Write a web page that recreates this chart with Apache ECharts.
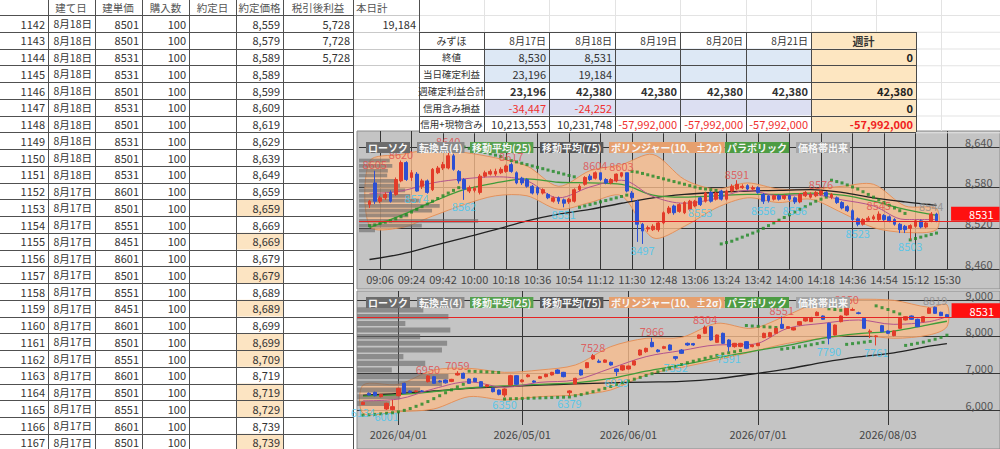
<!DOCTYPE html>
<html><head><meta charset="utf-8">
<script src="https://cdn.jsdelivr.net/npm/echarts@6/dist/echarts.min.js"></script>
<style>html,body{margin:0;padding:0;background:#fff}#c{width:1000px;height:449px}</style>
</head><body><div id="c"></div>
<script>
// ---------------- spreadsheet data ----------------
const rowNums = [1142,1143,1144,1145,1146,1147,1148,1149,1150,1151,1152,1153,1154,1155,1156,1157,1158,1159,1160,1161,1162,1163,1164,1165,1166,1167];
const tradeDates = ['8月18日','8月18日','8月18日','8月18日','8月18日','8月18日','8月18日','8月18日','8月18日','8月18日','8月17日','8月17日','8月17日','8月17日','8月17日','8月17日','8月17日','8月17日','8月17日','8月17日','8月17日','8月17日','8月17日','8月17日','8月17日','8月17日'];
const buildPrices = [8501,8501,8531,8531,8501,8531,8501,8531,8501,8531,8601,8501,8551,8451,8601,8501,8551,8451,8601,8501,8551,8601,8501,8551,8601,8501];
const quantities = [100,100,100,100,100,100,100,100,100,100,100,100,100,100,100,100,100,100,100,100,100,100,100,100,100,100];
const fillPrices = [8559,8579,8589,8589,8599,8609,8619,8629,8639,8649,8659,8659,8669,8669,8679,8679,8689,8689,8699,8699,8709,8719,8719,8729,8739,8739];
const netProfits = [5728,7728,5728];
const todayTotal = [19184];
const highlightedRows = [1153,1155,1157,1159,1161,1162,1164,1165,1167];
const sheetHeaders = ['建て日','建単価','購入数','約定日','約定価格','税引後利益','本日計'];

const summaryHeader = ['みずほ','8月17日','8月18日','8月19日','8月20日','8月21日','週計'];
const summaryLabels = ['終値','当日確定利益','週確定利益合計','信用含み損益','信用+現物含み'];
const closePrices = [8530,8531,null,null,null];
const dayProfit = [23196,19184,null,null,null];
const weekProfit = [23196,42380,42380,42380,42380];
const marginPL = [-34447,-24252,null,null,null];
const totalPL = [10213553,10231748,-57992000,-57992000,-57992000];
const weekTotals = [0,null,42380,0,-57992000];

// ---------------- intraday chart (3-min bars) [open, close, low, high] ----------------
const tickLabels1 = ['09:06','09:24','09:42','10:00','10:18','10:36','10:54','11:12','11:30','12:48','13:06','13:24','13:42','14:00','14:18','14:36','14:54','15:12','15:30'];
const candles1 = [
[8555,8560,8550,8562],[8587,8560,8556,8605],[8560,8565,8557,8568],[8565,8570,8562,8573],[8573,8560,8558,8576],
[8570,8592,8568,8595],[8590,8617,8588,8620],[8617,8592,8590,8619],[8595,8602,8590,8606],[8600,8575,8574,8603],
[8582,8590,8578,8593],[8590,8573,8571,8592],[8577,8607,8575,8609],[8602,8609,8600,8612],[8609,8614,8606,8618],
[8609,8627,8607,8640],[8627,8607,8605,8630],[8604,8590,8586,8606],[8592,8578,8562,8594],[8575,8580,8572,8583],
[8576,8579,8573,8582],[8573,8597,8570,8600],[8597,8602,8595,8605],[8600,8604,8598,8607],[8600,8604,8597,8608],
[8602,8607,8600,8610],[8604,8612,8602,8614],[8614,8604,8602,8617],[8602,8587,8585,8604],[8594,8587,8584,8596],
[8592,8582,8580,8594],[8582,8572,8570,8584],[8580,8572,8569,8582],[8572,8577,8570,8579],[8570,8565,8563,8572],
[8560,8565,8558,8567],[8565,8560,8556,8567],[8562,8557,8551,8564],[8559,8563,8556,8565],[8560,8577,8558,8579],
[8577,8582,8575,8585],[8585,8595,8583,8597],[8597,8592,8590,8600],[8594,8602,8592,8604],[8602,8592,8590,8602],
[8592,8587,8585,8594],[8587,8592,8585,8594],[8590,8600,8588,8601],[8597,8602,8595,8603],[8602,8575,8573,8602],
[8572,8565,8560,8575],[8560,8526,8500,8562],[8526,8516,8497,8528],[8519,8521,8515,8524],[8518,8523,8516,8526],
[8518,8528,8515,8530],[8528,8543,8526,8545],[8543,8550,8541,8553],[8553,8543,8540,8555],[8545,8555,8543,8557],
[8543,8558,8541,8560],[8548,8560,8546,8562],[8553,8560,8551,8562],[8565,8555,8553,8567],[8560,8572,8558,8574],
[8573,8560,8558,8575],[8563,8572,8561,8574],[8575,8563,8561,8577],[8563,8575,8561,8577],[8575,8582,8573,8585],
[8578,8585,8576,8591],[8580,8582,8578,8585],[8583,8578,8576,8585],[8578,8580,8576,8583],[8580,8573,8571,8582],
[8570,8560,8556,8572],[8568,8561,8558,8569],[8563,8568,8561,8570],[8568,8563,8561,8570],[8564,8568,8562,8570],
[8568,8563,8560,8570],[8565,8559,8556,8567],[8559,8570,8557,8572],[8568,8573,8566,8575],[8566,8570,8564,8573],
[8568,8573,8566,8575],[8570,8575,8568,8576],[8573,8568,8566,8575],[8566,8570,8563,8572],[8565,8558,8556,8567],
[8558,8550,8548,8560],[8552,8546,8544,8554],[8546,8533,8531,8548],[8534,8526,8523,8536],[8526,8533,8524,8535],
[8532,8535,8530,8538],[8534,8537,8532,8540],[8533,8541,8531,8545],[8539,8533,8531,8541],[8537,8531,8529,8539],
[8533,8526,8524,8535],[8526,8518,8513,8528],[8523,8518,8513,8525],[8520,8524,8503,8526],[8523,8531,8521,8533],
[8531,8522,8520,8533],[8522,8528,8520,8530],[8531,8541,8529,8544],[8541,8531,8529,8543]
];
const sampleIdx1 = [0,6,12,18,24,30,36,42,48,54,60,66,72,78,84,90,96,102,108];
const ma25_1 = [8521,8539,8559,8577,8587,8593,8588,8587,8585,8569,8566,8568,8570,8570,8572,8569,8560,8548,8539];
const ma75_1 = [8474,8482,8494,8506,8518,8531,8541,8548,8557,8565,8570,8573,8575,8576,8577,8573,8565,8559,8554];
const bbUp1  = [8619,8629,8636,8632,8624,8612,8582,8605,8614,8629,8592,8578,8587,8578,8578,8582,8585,8553,8549];
const bbLo1  = [8523,8521,8538,8555,8568,8568,8548,8558,8568,8506,8523,8550,8565,8558,8563,8543,8521,8514,8518];
const bbMid1 = [8571,8575,8587,8593,8596,8590,8565,8581,8591,8567,8557,8564,8576,8568,8570,8562,8553,8533,8533];
const sar1 = [
8524,8525,8527,8529,8531,8534,8537,8540,8544,8548,8552,8556,8560,8564,8568,8572,8576,8580,
8640,8638,8636,8634,8632,8630,8628,8626,8623,8620,8618,8616,8614,8612,8610,8608,8606,8604,8602,8600,8598,8596,
8551,8553,8555,8557,8559,8561,8563,8565,8567,8569,
8604,8603,8601,8599,8597,8595,8593,8591,8589,8587,8585,8583,8581,8579,8578,8577,8576,
8497,8499,8501,8504,8507,8510,8513,8516,8520,8524,8528,8532,8536,8540,8544,8548,8552,8556,8560,8563,8566,
8591,8589,8587,8584,8581,8578,8574,8570,8566,8562,8558,8554,8550,8546,8542,
8503,8505,8507,8509,8511,8513];
const turnHigh1 = [1,6,15,27,43,48,70,86,97];
const turnLow1 = [9,18,37,52,63,75,81,93,103];
const turnOpen1 = [107];
const profilePrice1 = [8620,8612,8605,8598,8590,8583,8576,8568,8561,8553,8546,8539,8531,8524,8517];
const profileVol1   = [48,52,45,44,56,64,72,80,95,126,114,77,186,98,25];

// ---------------- daily chart [open, close, low, high] ----------------
const dates2 = ['03/24','03/25','03/26','03/27','03/30','03/31',
'04/01','04/02','04/03','04/06','04/07','04/08','04/09','04/10','04/13','04/14','04/15','04/16','04/17','04/20','04/21','04/22','04/23','04/24','04/27','04/28','04/30',
'05/01','05/07','05/08','05/11','05/12','05/13','05/14','05/15','05/18','05/19','05/20','05/21','05/22','05/25','05/26','05/27','05/28','05/29',
'06/01','06/02','06/03','06/04','06/05','06/08','06/09','06/10','06/11','06/12','06/15','06/16','06/17','06/18','06/19','06/22','06/23','06/24','06/25','06/26','06/29','06/30',
'07/01','07/02','07/03','07/06','07/07','07/08','07/09','07/10','07/13','07/14','07/15','07/16','07/17','07/21','07/22','07/23','07/24','07/27','07/28','07/29','07/30','07/31',
'08/03','08/04','08/05','08/06','08/07','08/10','08/12','08/13','08/14','08/17','08/18'];
const tickDates2 = ['04/01','05/01','06/01','07/01','08/03'];
const candles2 = [
[6150,6210,6134,6230],[6455,6409,6390,6480],[6482,6391,6370,6500],[6364,6427,6340,6440],[6027,6182,6001,6200],
[6010,6091,5990,6273],[6391,6591,6370,6610],[6727,6455,6440,6745],[6518,6482,6460,6540],[6500,6520,6480,6540],
[6520,6510,6490,6545],[6773,6930,6750,6950],[6909,6727,6710,6930],[6791,6770,6750,6810],[6818,6740,6720,6830],
[6780,6836,6760,6850],[6955,7000,6940,7059],[7000,6864,6850,7020],[6845,6727,6710,6860],[6864,6773,6760,6880],
[6773,6636,6620,6790],[6640,6680,6620,6700],[6591,6500,6480,6610],[6545,6427,6400,6560],[6409,6573,6350,6590],
[6682,6936,6660,6960],[6936,6700,6680,6950],[6773,6818,6750,6840],[6909,6955,6890,6980],[6791,6760,6740,6810],
[6864,6909,6850,6930],[6909,6973,6890,6990],[6955,7027,6940,7040],[7091,7000,6980,7110],[7027,6909,6890,7040],
[6470,6520,6379,6540],[6709,6864,6690,6880],[7091,6955,6940,7110],[7155,7291,7140,7310],[7391,7482,7370,7528],
[7330,7300,7280,7380],[7300,7364,7290,7380],[7300,7227,7210,7320],[7118,7046,6929,7130],[7091,7209,7070,7220],
[7118,7200,7100,7210],[7227,7336,7210,7350],[7500,7636,7480,7650],[7591,7682,7560,7700],[7845,7727,7710,7966],
[7636,7591,7570,7660],[7682,7727,7660,7750],[7773,7636,7620,7790],[7455,7409,7352,7470],[7636,7546,7530,7660],
[7818,7773,7750,7840],[7810,7773,7750,7830],[7955,8046,7940,8060],[8091,8255,8070,8304],[8273,7909,7890,8290],
[7845,8046,7830,8060],[8091,7818,7800,8110],[7909,7727,7591,7930],[7727,7818,7700,7830],[7730,7818,7710,7830],
[7864,7682,7660,7880],[7727,7773,7710,7790],[7755,7818,7740,7830],[7973,8091,7960,8110],[8000,8109,7990,8130],
[8091,8227,8080,8240],[8336,8227,8210,8551],[8227,8273,8210,8290],[8182,8245,8170,8260],[8318,8409,8300,8420],
[8427,8500,8410,8520],[8409,8518,8400,8540],[8573,8664,8560,8690],[8564,8473,8460,8580],[8364,7955,7790,8380],
[8046,8318,8030,8330],[8409,8564,8390,8580],[8591,8773,8570,8850],[8720,8740,8700,8790],[8650,8630,8610,8680],
[8500,8227,8210,8520],[8130,8150,7960,8200],[8000,8020,7761,8040],[8300,8136,8120,8320],[8155,8091,8070,8170],
[8027,8155,8010,8170],[8227,8500,8210,8520],[8455,8545,8440,8560],[8564,8473,8460,8580],[8473,8273,8260,8490],
[8409,8545,8390,8560],[8636,8773,8620,8800],[8800,8636,8620,8819],[8664,8573,8560,8680],[8600,8531,8520,8620]
];
const sampleIdx2 = [0,6,12,18,24,30,36,42,48,54,60,66,72,78,84,90,96,99];
const ma25_2 = [6380,6420,6500,6600,6660,6700,6740,6860,7060,7230,7420,7600,7760,7960,8080,8150,8330,8420];
const ma75_2 = [6400,6450,6520,6590,6640,6680,6710,6740,6760,6780,6850,6980,7120,7300,7450,7560,7740,7810];
const bbUp2  = [6680,6700,7091,7136,7027,7091,7227,7727,7955,7980,8364,8227,8591,8980,9020,8990,8800,8870];
const bbLo2  = [5909,5955,6027,6364,6273,6364,6409,6545,6955,7160,7364,7591,7818,7955,8046,7955,8046,8273];
const bbMid2 = [6250,6300,6580,6770,6620,6755,6820,7136,7455,7620,7773,7790,8227,8364,8455,8336,8409,8545];
const sar2 = [
5860,5870,5880,5895,5910,5925,5950,5990,6040,6100,6160,6230,6310,6390,6470,6550,6630,6700,
7059,7052,7045,7038,7031,7024,
6300,6305,6310,6315,6320,6325,6330,6335,6340,6345,6350,6355,
6390,6420,6460,6500,6545,6590,6640,6690,6740,6790,6840,6890,6940,6990,7040,7090,7140,7190,7240,7290,7330,7370,7410,7450,7490,7530,7560,7590,7620,
8304,8290,8280,8270,8260,8250,
7660,7680,7700,7725,7750,7780,7810,7845,
8760,8740,8720,
7790,7810,7830,7850,7870,
8840,8790,8740,8680,8620,
7761,7790,7820,7850,7890,7930,7980,8040];
const turnHigh2 = [11,16,39,49,58,71,82];
const turnLow2 = [0,4,24,35,43,53,62,79,87];
const turnOpen2 = [97];
const profilePrice2 = [8730,8545,8360,8180,8000,7820,7635,7455,7270,7090,6910,6725,6545,6360,6180];
const profileVol2   = [103,142,75,145,98,140,132,72,106,54,142,132,98,67,51];

// ---------------- rendering ----------------
const FONT = '"Noto Sans CJK JP","Noto Sans",sans-serif';
const fmt = v => Number(v).toLocaleString('en-US');
const G = [];
function T(x, y, s, o) {
  o = o || {};
  G.push({type:'text', z:o.z || 1, x:x, y:y, silent:true, style:{text:String(s), fill:o.c || '#333',
    font:(o.b ? 'bold ' : '') + (o.fs || 11) + 'px ' + FONT, align:o.a || 'left', verticalAlign:'middle'}});
}
function L(x1, y1, x2, y2, c, z) { G.push({type:'line', z:z || 1, silent:true, shape:{x1:x1, y1:y1, x2:x2, y2:y2}, style:{stroke:c, lineWidth:1}}); }
function R(x, y, w, h, fill, z, stroke) { G.push({type:'rect', z:z || 0, silent:true, shape:{x:x, y:y, width:w, height:h}, style:{fill:fill, stroke:stroke || null, lineWidth:1}}); }

// faint sheet grid on the right side
const RH = 16.75;
for (let k = 0; k <= 7; k++) L(419, 15 + RH * k + 0.5, 1000, 15 + RH * k + 0.5, '#e3e3e3', 0);
[484,549,615,680,746,811,876,941].forEach(x => L(x + 0.5, 0, x + 0.5, 131, '#e3e3e3', 0));

// left table
rowNums.forEach((r, k) => {
  const top = 15 + RH * k;
  if (highlightedRows.indexOf(r) >= 0) R(236.5, top, 46.5, RH, '#fce4c2', 0);
});
for (let k = 0; k <= rowNums.length; k++) {
  const y = Math.round(15 + RH * k) + 0.5;
  L(0, y, 353, y, '#505050');
  if (y < 131) L(353, y, 419, y, '#c9c9c9');
}
[48,94.5,142,189,236,283,353].forEach(x => L(Math.round(x) + 0.5, 0, Math.round(x) + 0.5, 449, '#505050'));
L(419.5, 0, 419.5, 131, '#505050');
const hdrCenters = [71,118,165.5,212.5,259.5,318];
sheetHeaders.forEach((h, i) => { if (i < 6) T(hdrCenters[i], 7.5, h, {a:'center', c:'#555', fs:10.5}); else T(356, 7.5, h, {c:'#555', fs:10.5}); });
rowNums.forEach((r, k) => {
  const yc = 15 + RH * k + 8.6;
  T(45, yc, r, {a:'right'});
  T(92, yc, tradeDates[k], {a:'right', fs:10.5});
  T(139, yc, buildPrices[k], {a:'right'});
  T(186, yc, quantities[k], {a:'right'});
  T(280, yc, fmt(fillPrices[k]), {a:'right'});
  if (netProfits[k] != null) T(350, yc, fmt(netProfits[k]), {a:'right'});
  if (todayTotal[k] != null) T(416, yc, fmt(todayTotal[k]), {a:'right'});
});

// summary table (top right)
const RX = [419,484,549,615,680,746,811,916];
const RY0 = 31.75;
const tRows = [closePrices, dayProfit, weekProfit, marginPL, totalPL];
for (let r = 0; r < 6; r++) {
  const y = RY0 + RH * r;
  for (let c = 0; c < 7; c++) {
    let fill = '#ffffff';
    if (c === 6) fill = '#fde6c1';
    else if (c > 0 && (r === 1 || r === 2)) fill = '#dde8f5';
    else if (c > 0 && r === 4) fill = '#dcdff2';
    R(RX[c], y, RX[c + 1] - RX[c], RH, fill, 1);
  }
}
for (let r = 0; r <= 6; r++) { const y = Math.round(RY0 + RH * r) + 0.5; L(419, y, RX[7], y, '#4a4a4a', 2); }
RX.forEach(x => L(x + 0.5, Math.round(RY0), x + 0.5, Math.round(RY0 + RH * 6), '#4a4a4a', 2));
summaryHeader.forEach((h, c) => {
  const yc = RY0 + RH / 2 + 0.5;
  if (c === 0) T((RX[0] + RX[1]) / 2, yc, h, {a:'center', fs:10, z:3});
  else if (c === 6) T((RX[6] + RX[7]) / 2, yc, h, {a:'center', b:true, fs:11, z:3});
  else T(RX[c + 1] - 3, yc, h, {a:'right', fs:10, z:3});
});
summaryLabels.forEach((lab, r) => {
  const yc = RY0 + RH * (r + 1) + RH / 2 + 0.5;
  T((RX[0] + RX[1]) / 2, yc, lab, {a:'center', fs:9.5, z:3});
  tRows[r].forEach((v, c) => {
    if (v == null) return;
    T(RX[c + 2] - 3, yc, fmt(v), {a:'right', b:r === 2, c:v < 0 ? '#f03030' : '#333', z:3});
  });
  if (weekTotals[r] != null) T(RX[7] - 3, yc, fmt(weekTotals[r]), {a:'right', b:true, c:weekTotals[r] < 0 ? '#f02020' : '#222', z:3});
});

// chart panels
R(357, 131, 643, 158, '#c4c4c4', -5, '#8c8c8c');
R(357, 291, 643, 158, '#c4c4c4', -5, '#8c8c8c');
const tags = [['ローソク',366,'#6c6c6c'],['転換点(4)',417,'#8a8a8a'],['移動平均(25)',470,'#56a04e'],['移動平均(75)',540,'#585858'],
  ['ボリンジャー(10、±2σ)',609,'#e6a06e'],['パラボリック',725,'#4d9c43'],['価格帯出来',796,'#a5a5a5']];
[147.5, 302.5].forEach(yc => tags.forEach(t => {
  G.push({type:'text', z:30, x:t[1], y:yc, silent:true, style:{text:t[0], fill:'#f6f6f6', font:'bold 10px ' + FONT,
    backgroundColor:t[2], padding:[1,2,0,2], align:'left', verticalAlign:'middle'}});
}));

// ---------------- chart option ----------------
const OFF1 = 2, N1 = 123, OFF2 = 1, N2 = 110;
const cats1 = Array.from({length:N1}, (_, c) => 'c' + c);
const cats2 = Array.from({length:N2}, (_, c) => { const i = c - OFF2; return (i >= 0 && i < dates2.length) ? dates2[i] : 'e' + c; });
function lbl1(c) { const i = c - OFF1; if (i < 2 || (i - 2) % 6) return null; const k = (i - 2) / 6; return k < tickLabels1.length ? tickLabels1[k] : null; }
function lbl2(c) { const d = dates2[c - OFF2]; return d && tickDates2.indexOf(d) >= 0 ? '2026/' + d : null; }

function bandSeries(xi, yi, idxs, up, lo, off) {
  return {type:'custom', xAxisIndex:xi, yAxisIndex:yi, z:1, silent:true, clip:false,
    data:[[idxs[0] + off, lo[0]]],
    renderItem:function (params, api) {
      const pts = [];
      idxs.forEach((i, k) => pts.push(api.coord([i + off, up[k]])));
      for (let k = idxs.length - 1; k >= 0; k--) pts.push(api.coord([idxs[k] + off, lo[k]]));
      return {type:'polygon', shape:{points:pts, smooth:0.3}, style:{fill:'rgba(250,188,140,0.78)', stroke:'rgba(228,140,82,0.9)', lineWidth:1}};
    }};
}
function profileSeries(xi, yi, prices, vols, h) {
  return {type:'custom', xAxisIndex:xi, yAxisIndex:yi, z:1, silent:true, clip:false,
    data:prices.map((p, k) => [vols[k], p]),
    renderItem:function (params, api) {
      const v = api.value(0), p = api.value(1);
      const a = api.coord([0, p + h / 2]), b = api.coord([v, p - h / 2]);
      return {type:'rect', shape:{x:a[0], y:a[1], width:b[0] - a[0], height:b[1] - a[1]}, style:{fill:'rgba(105,105,105,0.62)'}};
    }};
}
function lineSeries(xi, yi, idxs, vals, off, color, w) {
  return {type:'line', xAxisIndex:xi, yAxisIndex:yi, z:3, silent:true, showSymbol:false, smooth:0.35, clip:false,
    data:idxs.map((i, k) => [i + off, vals[k]]), lineStyle:{color:color, width:w}};
}
function sarSeries(xi, yi, vals, off) {
  return {type:'scatter', xAxisIndex:xi, yAxisIndex:yi, z:4, silent:true, symbol:'rect', symbolSize:3,
    data:vals.map((v, i) => [i + off, v]), itemStyle:{color:'#1f8a25'}};
}
function candleSeries(xi, yi, data, off, bw) {
  const last = data[data.length - 1][1];
  return {type:'candlestick', xAxisIndex:xi, yAxisIndex:yi, z:5, silent:true, clip:false, barWidth:bw,
    data:Array.from({length:off}, () => '-').concat(data),
    itemStyle:{color:'#e23c2a', color0:'#2d50d2', borderColor:'#e23c2a', borderColor0:'#2d50d2', borderWidth:1},
    markLine:{silent:true, symbol:'none', z:6, data:[{yAxis:last}], lineStyle:{color:'#e52525', width:1, type:'solid'},
      label:{position:'insideEndTop', distance:0, formatter:String(last), backgroundColor:'#ff1010', color:'#fff',
        fontSize:11, fontFamily:FONT, padding:[2,6,1,18]}}};
}
function turnSeries(xi, yi, idxs, data, off, which, pos, color) {
  return {type:'scatter', xAxisIndex:xi, yAxisIndex:yi, z:7, silent:true, symbolSize:0,
    data:idxs.map(i => [i + off, data[i][which]]),
    label:{show:true, position:pos, distance:1, formatter:p => String(p.value[1]), color:color, fontSize:11, fontFamily:FONT}};
}

const yLbl = {inside:true, color:'#555', fontSize:11, fontFamily:FONT, verticalAlign:'bottom', margin:7, formatter:v => fmt(v)};
const option = {
  animation:false,
  backgroundColor:'#ffffff',
  graphic:{elements:G},
  grid:[
    {left:359, top:131, width:5.25 * (N1 - 1), height:138},
    {left:357.1, top:291, width:5.9 * (N2 - 1), height:134}
  ],
  xAxis:[
    {type:'category', gridIndex:0, data:cats1, boundaryGap:false, axisLine:{show:false}, axisTick:{show:false},
      axisLabel:{interval:c => lbl1(c) !== null, formatter:(v, c) => lbl1(c) || '', color:'#444', fontSize:11, fontFamily:FONT, margin:4},
      splitLine:{show:true, interval:c => lbl1(c) !== null, lineStyle:{color:'#353535', width:1}}},
    {type:'value', gridIndex:0, min:0, max:1000, show:false},
    {type:'category', gridIndex:1, data:cats2, boundaryGap:false, axisLine:{show:false}, axisTick:{show:false},
      axisLabel:{interval:c => lbl2(c) !== null, formatter:(v, c) => lbl2(c) || '', color:'#444', fontSize:11, fontFamily:FONT, margin:3},
      splitLine:{show:true, interval:c => lbl2(c) !== null, lineStyle:{color:'#353535', width:1}}},
    {type:'value', gridIndex:1, min:0, max:1000, show:false}
  ],
  yAxis:[
    {type:'value', gridIndex:0, position:'right', min:8460, max:8663.59, interval:60, axisLine:{show:false}, axisTick:{show:false},
      axisLabel:Object.assign({showMaxLabel:false}, yLbl), splitLine:{showMaxLine:false, lineStyle:{color:'#353535', width:1}}},
    {type:'value', gridIndex:1, position:'right', min:5591, max:9245, splitNumber:4, axisLine:{show:false}, axisTick:{show:false},
      axisLabel:Object.assign({showMinLabel:false, showMaxLabel:false}, yLbl), splitLine:{showMinLine:false, showMaxLine:false, lineStyle:{color:'#353535', width:1}}}
  ],
  series:[
    bandSeries(0, 0, sampleIdx1, bbUp1, bbLo1, OFF1),
    profileSeries(1, 0, profilePrice1, profileVol1, 5.5),
    lineSeries(0, 0, sampleIdx1, ma75_1, OFF1, '#222', 1.3),
    lineSeries(0, 0, sampleIdx1, ma25_1, OFF1, '#3f9c3a', 1.3),
    lineSeries(0, 0, sampleIdx1, bbMid1, OFF1, '#b2548e', 1),
    sarSeries(0, 0, sar1, OFF1),
    candleSeries(0, 0, candles1, OFF1, 3.4),
    turnSeries(0, 0, turnHigh1, candles1, OFF1, 3, 'top', '#e24a4a'),
    turnSeries(0, 0, turnLow1, candles1, OFF1, 2, 'bottom', '#3ec6f0'),
    turnSeries(0, 0, turnOpen1, candles1, OFF1, 3, 'top', '#8a8a8a'),

    bandSeries(2, 1, sampleIdx2, bbUp2, bbLo2, OFF2),
    profileSeries(3, 1, profilePrice2, profileVol2, 140),
    lineSeries(2, 1, sampleIdx2, ma75_2, OFF2, '#222', 1.3),
    lineSeries(2, 1, sampleIdx2, ma25_2, OFF2, '#3f9c3a', 1.3),
    lineSeries(2, 1, sampleIdx2, bbMid2, OFF2, '#b2548e', 1),
    sarSeries(2, 1, sar2, OFF2),
    candleSeries(2, 1, candles2, OFF2, 3.8),
    turnSeries(2, 1, turnHigh2, candles2, OFF2, 3, 'top', '#e24a4a'),
    turnSeries(2, 1, turnLow2, candles2, OFF2, 2, 'bottom', '#3ec6f0'),
    turnSeries(2, 1, turnOpen2, candles2, OFF2, 3, 'top', '#8a8a8a')
  ]
};
const chart = echarts.init(document.getElementById('c'), null, {renderer:'svg', width:1000, height:449});
chart.setOption(option);
</script></body></html>
